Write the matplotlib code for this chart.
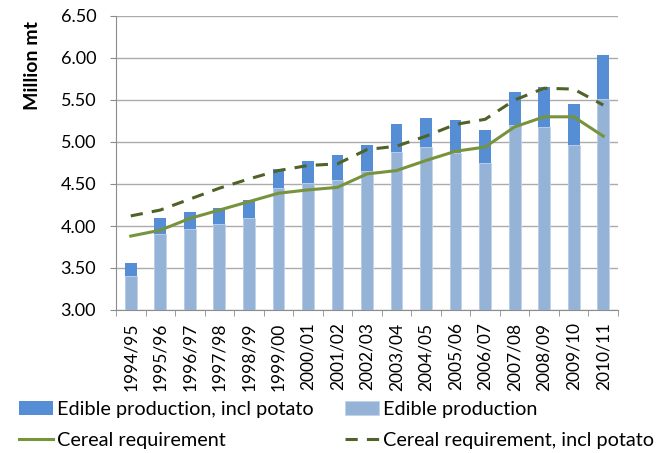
import matplotlib
matplotlib.use("Agg")
import matplotlib.pyplot as plt
import numpy as np

seasons = ["1994/95", "1995/96", "1996/97", "1997/98", "1998/99", "1999/00",
           "2000/01", "2001/02", "2002/03", "2003/04", "2004/05", "2005/06",
           "2006/07", "2007/08", "2008/09", "2009/10", "2010/11"]
edible_incl_potato = [3.56, 4.09, 4.17, 4.22, 4.31, 4.68, 4.77, 4.84, 4.96,
                      5.21, 5.29, 5.26, 5.14, 5.60, 5.65, 5.45, 6.03]
edible = [3.40, 3.91, 3.97, 4.02, 4.09, 4.45, 4.51, 4.55, 4.65,
          4.88, 4.94, 4.87, 4.75, 5.20, 5.18, 4.97, 5.51]
cereal_req = [3.88, 3.95, 4.09, 4.19, 4.29, 4.39, 4.43, 4.46, 4.62,
              4.66, 4.78, 4.89, 4.94, 5.18, 5.30, 5.30, 5.07]
cereal_req_incl_potato = [4.12, 4.19, 4.32, 4.45, 4.56, 4.66, 4.72, 4.74, 4.91,
                          4.95, 5.07, 5.21, 5.27, 5.50, 5.64, 5.63, 5.44]
y_ticks = [3.0, 3.5, 4.0, 4.5, 5.0, 5.5, 6.0, 6.5]

plt.rcParams['font.family'] = ['Lato', 'DejaVu Sans']

W, H = 665, 453
fig = plt.figure(figsize=(W / 100, H / 100), dpi=100)
ax = fig.add_axes([116 / W, 1 - 310 / H, (618 - 116) / W, (310 - 16) / H])

x = np.arange(len(seasons))
w = 0.4
b1 = ax.bar(x, edible_incl_potato, width=w, color="#558ED5", zorder=2,
            label="Edible production, incl potato")
b2 = ax.bar(x, edible, width=w, color="#95B3D7", edgecolor="#C3D4EA",
            linewidth=0.6, zorder=3, label="Edible production")
l1, = ax.plot(x, cereal_req, color="#77933C", lw=2.2, zorder=4,
              label="Cereal requirement")
l2, = ax.plot(x, cereal_req_incl_potato, color="#4F6228", lw=2.2,
              dashes=(4, 3), zorder=4, label="Cereal requirement, incl potato")

ax.set_xlim(-0.5, len(seasons) - 0.5)
ax.set_ylim(3.0, 6.5)
ax.set_yticks(y_ticks)
ax.set_yticklabels([f"{v:.2f}" for v in y_ticks], fontsize=13)
ax.yaxis.grid(True, color="#ABABAB", lw=1)
ax.set_axisbelow(True)

ax.set_xticks(x)
ax.set_xticklabels(seasons, rotation=90, fontsize=12.5)
ax.tick_params(axis="x", length=0, pad=9)
ax.set_xticks(np.arange(-0.5, len(seasons)), minor=True)
ax.tick_params(axis="x", which="minor", length=4.3, color="#8C8C8C")
ax.tick_params(axis="y", length=4.3, color="#8C8C8C", pad=10)

for s in ["top", "right"]:
    ax.spines[s].set_visible(False)
for s in ["left", "bottom"]:
    ax.spines[s].set_color("#8C8C8C")

fig.text(33 / W, 1 - 66 / H, "Million mt", rotation=90, fontsize=14,
         fontweight="bold", ha="center", va="center")

leg_kw = dict(loc="upper left", frameon=False, fontsize=14.3,
              handlelength=1.7, handletextpad=0.2, labelspacing=0.7,
              borderpad=0, borderaxespad=0)
leg1 = fig.legend(handles=[b1, l1], bbox_to_anchor=(19 / W, 1 - 401 / H), **leg_kw)
leg2 = fig.legend(handles=[b2, l2], bbox_to_anchor=(345 / W, 1 - 401 / H), **leg_kw)

fig.savefig("out.png", dpi=100)
